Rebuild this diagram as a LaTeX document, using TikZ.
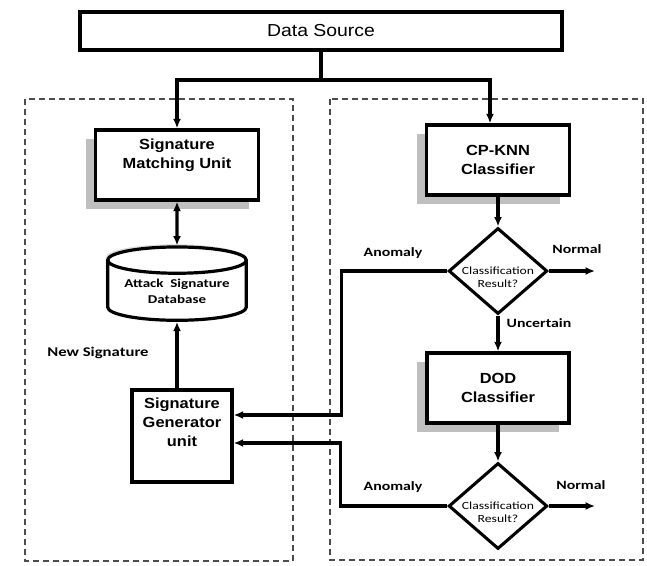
\documentclass[tikz,border=0pt]{standalone}
\usepackage{fontspec}
\setmainfont{Liberation Sans}[FakeStretch=1.12]
\newfontfamily\calibri{Carlito}[FakeStretch=1.25]
\usetikzlibrary{arrows.meta, shapes.geometric, shadows}

\begin{document}
\begin{tikzpicture}[x=0.75pt, y=-0.75pt]

\tikzset{unit/.style = {shape=rectangle, draw, line width=2.6pt, fill=white, align=center, font=\fontsize{11}{14.25}\selectfont\bfseries}}
\tikzset{shaded/.style = {drop shadow={shadow xshift=-7.3pt, shadow yshift=-7pt, fill=black!25, opacity=1}}}
\tikzset{store/.style = {shape=cylinder, shape border rotate=90, aspect=0.25, draw, line width=2.4pt, fill=white, align=center, minimum width=104pt, minimum height=55pt, inner sep=0pt, font=\calibri\bfseries\fontsize{9}{12}\selectfont, drop shadow={shadow xshift=-1.5pt, shadow yshift=2pt, fill=black!20, opacity=0.7}}}
\tikzset{decision/.style = {shape=diamond, draw, line width=2.3pt, fill=white, minimum width=74pt, minimum height=64.5pt, inner sep=0pt}}
\tikzset{result/.style = {font=\calibri\fontsize{8.2}{9.75}\selectfont, align=center, yshift=-4.5pt}}
\tikzset{flow/.style = {->, > = {Latex[length=7pt, width=6pt]}, line width=2.4pt}}
\tikzset{tag/.style = {font=\calibri\bfseries\fontsize{9.5}{11}\selectfont}}
\tikzset{group/.style = {draw=black!70, dash pattern=on 4.5pt off 3pt, line width=0.9pt}}

\useasboundingbox (0,0) rectangle (647,565);

%frames
\draw[group] (25,99) rectangle (293,561);
\draw[group] (330,99) rectangle (643,560);

%boxes
\node[unit, font=\fontsize{13}{15}\selectfont, minimum width=361.5pt, minimum height=28.5pt] (src) at (321,31) {Data Source};
\node[unit, shaded, minimum width=122pt, minimum height=52.5pt, text depth=17pt] (smu) at (177,165) {Signature\\Matching Unit};
\node[store] (db) at (177,291) {Attack\ \ Signature\\Database};
\node[unit, minimum width=75pt, minimum height=69pt, text depth=21pt] (sgu) at (182,436) {Signature\\Generator\\unit};
\node[unit, shaded, minimum width=107pt, minimum height=52.5pt] (cpknn) at (498,160) {CP-KNN\\Classifier};
\node[unit, shaded, minimum width=106.5pt, minimum height=52.5pt] (dod) at (498,388) {DOD\\Classifier};
\node[decision, label={[result]center:{Classification\\Result?}}] (dec1) at (498,271) {};
\node[decision, label={[result]center:{Classification\\Result?}}] (dec2) at (498,506) {};
\coordinate (split) at (321,80);
\coordinate (ok1) at (595,271);
\coordinate (ok2) at (595,506);

%labels
\node[tag] (anom1) at (393,253) {Anomaly};
\node[tag] (norm1) at (577,249) {Normal};
\node[tag] (unc) at (539,323) {Uncertain};
\node[tag] (anom2) at (393,487) {Anomaly};
\node[tag] (norm2) at (581,485) {Normal};
\node[tag, font=\calibri\bfseries\fontsize{10}{12}\selectfont] (newsig) at (98,353) {New Signature};

%arrows
\draw[line width=2.4pt] (src.south) -- (split);
\draw[flow] (split) -| (smu.north);
\draw[flow] (split) -| ([xshift=-6pt]cpknn.north);
\draw[flow, <->] (smu.south) -- (db.north);
\draw[flow] (db.south |- sgu.north) -- (db.south);
\draw[flow] (cpknn.south) -- (dec1.north);
\draw[flow] (dec1.south) -- (dod.north);
\draw[flow] (dod.south) -- (dec2.north);
\draw[flow] (dec1.east) -- (ok1);
\draw[flow] (dec2.east) -- (ok2);
\draw[flow] (dec1.west) -- ++(-105.5,0) |- ([yshift=15.75pt]sgu.east);
\draw[flow] (dec2.west) -- ++(-107,0) |- ([yshift=-5.25pt]sgu.east);

\end{tikzpicture}
\end{document}
